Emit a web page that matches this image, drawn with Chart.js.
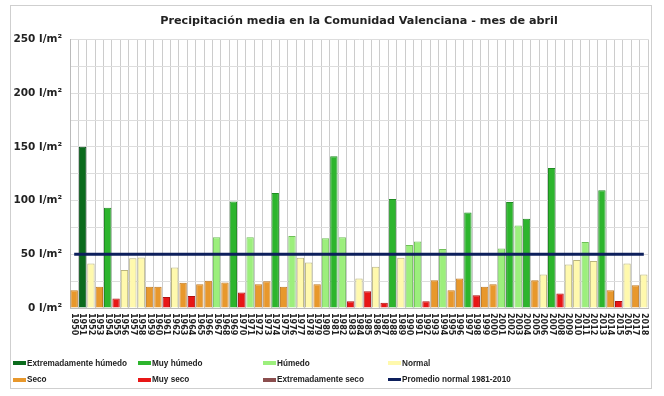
<!DOCTYPE html>
<html>
<head>
<meta charset="utf-8">
<script src="https://cdn.jsdelivr.net/npm/chart.js@4/dist/chart.umd.min.js"></script>
<style>
  body { margin: 0; background: #fff; }
  .wrap { position: relative; width: 664px; height: 396px; }
  .frame { position: absolute; left: 10px; top: 5px; width: 640px; height: 382px; border: 1px solid #cfcfcf; }
  canvas { position: absolute; left: 0; top: 0; }
  .legend { position: absolute; left: 13px; top: 355px; display: grid; grid-template-columns: repeat(4, 125px); grid-auto-rows: 16.5px;
    font: bold 8.2px "Liberation Sans", Arial, sans-serif; color: #222; }
  .legend div { display: flex; align-items: center; white-space: nowrap; }
  .legend span { display: inline-block; width: 13px; height: 4px; margin-right: 1px; }
</style>
</head>
<body>
<div class="wrap">
  <div class="frame"></div>
  <canvas id="chart" width="664" height="396"></canvas>
  <div class="legend" id="legend"></div>
</div>
<script>
const years = [
  "1950", "1951", "1952", "1953", "1954", "1955", "1956", "1957", "1958", "1959",
  "1960", "1961", "1962", "1963", "1964", "1965", "1966", "1967", "1968", "1969",
  "1970", "1971", "1972", "1973", "1974", "1975", "1976", "1977", "1978", "1979",
  "1980", "1981", "1982", "1983", "1984", "1985", "1986", "1987", "1988", "1989",
  "1990", "1991", "1992", "1993", "1994", "1995", "1996", "1997", "1998", "1999",
  "2000", "2001", "2002", "2003", "2004", "2005", "2006", "2007", "2008", "2009",
  "2010", "2011", "2012", "2013", "2014", "2015", "2016", "2017", "2018",
];

// precipitation in l/m2
const precip = [
  16.5, 150, 41.5, 19.7, 93.3, 8.8, 35.3, 46.2, 47, 19.7,
  19.7, 10.3, 37.8, 23.4, 11.2, 22, 25.3, 65.8, 23.7, 99.2,
  14.4, 65.8, 22.2, 25, 107, 19.7, 67, 46.8, 42.4, 22.2,
  64.9, 141.3, 65.8, 6.3, 27.5, 15.6, 38.4, 5, 101.4, 46.8,
  58.7, 61.8, 6.3, 25.9, 54.9, 16.6, 27.5, 88.9, 11.9, 19.7,
  22.2, 55.5, 98.6, 76.7, 83, 25.9, 31.2, 130.4, 13.5, 40.6,
  44.6, 61.5, 43.7, 109.5, 16.6, 6.6, 41.5, 21.2, 31.2,
];

// EH extremadamente humedo, MH muy humedo, H humedo, N normal, S seco, MS muy seco, ES extremadamente seco
const character = [
  "S", "EH", "N", "S", "MH", "MS", "N", "N", "N", "S",
  "S", "MS", "N", "S", "MS", "S", "S", "H", "S", "MH",
  "MS", "H", "S", "S", "MH", "S", "H", "N", "N", "S",
  "H", "MH", "H", "MS", "N", "MS", "N", "MS", "MH", "N",
  "H", "H", "MS", "S", "H", "S", "S", "MH", "MS", "S",
  "S", "H", "MH", "H", "MH", "S", "N", "MH", "MS", "N",
  "N", "H", "N", "MH", "S", "MS", "N", "S", "N",
];

const promedio = 50;

const yTicks = [0, 50, 100, 150, 200, 250];

const classes = [
  { key: "EH", label: "Extremadamente húmedo", fill: "#0b6b1c", line: "#08501a" },
  { key: "MH", label: "Muy húmedo", fill: "#2db52d", line: "#1f8c22" },
  { key: "H", label: "Húmedo", fill: "#9cef7c", line: "#6fc058" },
  { key: "N", label: "Normal", fill: "#fff9ad", line: "#b9b47e" },
  { key: "S", label: "Seco", fill: "#e8982c", line: "#c07a22" },
  { key: "MS", label: "Muy seco", fill: "#e81616", line: "#b01010" },
  { key: "ES", label: "Extremadamente seco", fill: "#8b4e4e", line: "#6b3a3a" },
];
const promedioLabel = "Promedio normal 1981-2010";
const promedioColor = "#0d1f5c";

const byKey = {};
classes.forEach((c) => { byKey[c.key] = c; });

// year labels are written top to bottom, so draw them ourselves
const yearLabels = {
  id: "yearLabels",
  afterDraw(chart) {
    const { ctx, scales: { x } } = chart;
    ctx.save();
    ctx.font = "bold 8px 'DejaVu Sans', sans-serif";
    ctx.fillStyle = "#222";
    ctx.textAlign = "left";
    ctx.textBaseline = "middle";
    years.forEach((year, i) => {
      ctx.save();
      ctx.translate(x.getPixelForValue(i), x.top + 5);
      ctx.rotate(Math.PI / 2);
      ctx.fillText(year, 0, 0);
      ctx.restore();
    });
    ctx.restore();
  },
};

new Chart(document.getElementById("chart"), {
  data: {
    labels: years,
    datasets: [
      {
        type: "line",
        label: promedioLabel,
        data: years.map(() => promedio),
        borderColor: promedioColor,
        borderWidth: 3,
        pointRadius: 0,
        order: 0,
      },
      {
        type: "bar",
        label: "Precipitación",
        data: precip,
        backgroundColor: character.map((k) => byKey[k].fill),
        borderColor: character.map((k) => byKey[k].line),
        borderWidth: 1,
        barPercentage: 0.88,
        categoryPercentage: 1,
        order: 1,
      },
    ],
  },
  plugins: [yearLabels],
  options: {
    responsive: false,
    animation: false,
    layout: { padding: { left: 10, right: 16, top: 0, bottom: 56 } },
    plugins: {
      legend: { display: false },
      tooltip: { enabled: false },
      title: {
        display: true,
        fullSize: false,
        text: "Precipitación media en la Comunidad Valenciana - mes de abril",
        color: "#222",
        font: { family: "'DejaVu Sans', sans-serif", size: 11.2, weight: "bold" },
        padding: { top: 14, bottom: 12 },
      },
    },
    scales: {
      x: {
        grid: { color: "#cccccc", offset: true, drawTicks: false },
        border: { color: "#bbbbbb" },
        ticks: { display: false },
        afterFit: (s) => { s.height = 32; },
      },
      y: {
        min: 0,
        max: 250,
        grid: { color: "#dddddd", drawTicks: false },
        border: { color: "#bbbbbb" },
        afterBuildTicks: (s) => {
          const t = [];
          for (let v = 0; v <= 250; v += 25) t.push({ value: v });
          s.ticks = t;
        },
        ticks: {
          padding: 8,
          color: "#222",
          font: { family: "'DejaVu Sans', sans-serif", size: 10.5, weight: "bold" },
          callback: (v) => (yTicks.includes(v) ? `${v} l/m²` : ""),
        },
        afterFit: (s) => { s.width = 60; },
      },
    },
  },
});

const legend = document.getElementById("legend");
const items = classes.map((c) => ({ label: c.label, color: c.fill, h: 4 }));
items.push({ label: promedioLabel, color: promedioColor, h: 3 });
items.forEach((item) => {
  const el = document.createElement("div");
  el.innerHTML = `<span style="background:${item.color};height:${item.h}px"></span>${item.label}`;
  legend.appendChild(el);
});
</script>
</body>
</html>
